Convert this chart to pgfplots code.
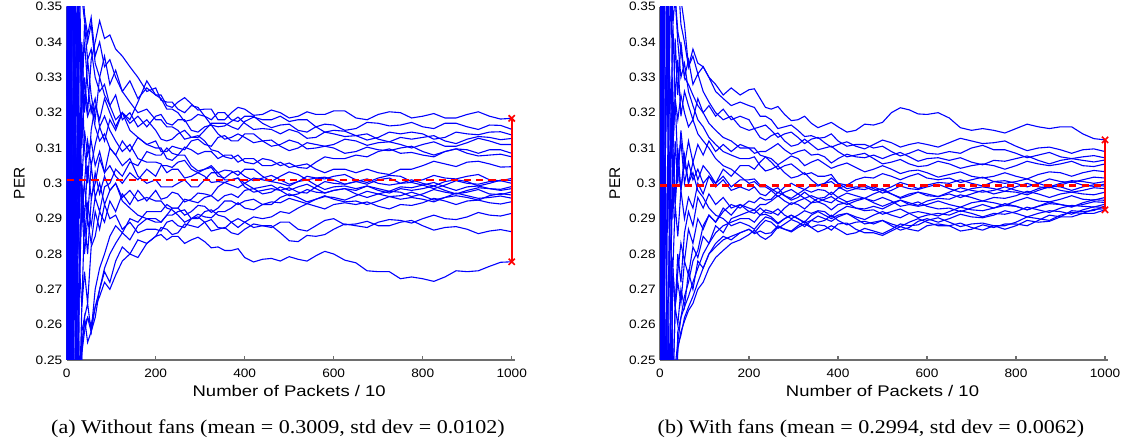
\documentclass[border=0pt]{standalone}
\usepackage{fontspec}
\setmainfont{Liberation Serif}
\newfontfamily\axfont[FakeStretch=1.12]{Liberation Sans}
\newfontfamily\lblfont[FakeStretch=1.2]{Liberation Sans}
\newfontfamily\perfont{Liberation Sans}
\newfontfamily\capfont[FakeStretch=1.13]{Liberation Serif}
\usepackage{pgfplots}
\pgfplotsset{compat=1.18}
\usepackage{pgfplotstable}
\definecolor{mblue}{RGB}{0,0,255}
\definecolor{mred}{RGB}{255,0,0}
\definecolor{maxis}{RGB}{110,110,110}

% PER x 1000, one row per run (first row = x grid), transposed and sorted by x below
\pgfplotstableread[header=false]{
X 0 2 4 6 8 10 12 15 18 21 25 29 34 40 47 55 64 74 85 97 110 125 142 160 180 200 225 250 280 310 340 370 400 440 480 520 560 600 650 700 750 800 850 900 950 1000 212 237 265 295 325 355 385 420 460 500 540 580 625 675 725 775 825 875 925 975
A 0 500 333 250 400 300 357 380 290 330 360 300 340 320 335 325 318 330 336 328 332 326 329 324 327 325 322 323 322.5 321 318 320 321 319.5 320 319 319.5 320.5 318.5 319.5 320 319 318.5 319.5 319 318.4 325 321.5 324.25 320.75 321 318 321.5 319.25 320.75 318.5 320.25 319.5 320.5 318 320.25 318.5 319.75 318.5 320.25 318.2
B 1000 0 500 400 200 350 420 300 380 260 340 360 310 330 320 335 340 346 341 342 338 336 333 330 326 327 323 321 322 319 320 318 319 317 316.5 315 316 316.5 315.5 317 316.5 316 317 316 316.5 315.3 323.5 323 320 321.5 318 320 317.5 319 315.75 316.75 314.5 316.75 315 317.25 316.25 317.25 315.5 317 315.25 316.4
C 0 333 200 429 250 364 231 300 350 280 320 290 330 310 300 315 322 318 324 320 316 320 318 323 329 325 321 320 318 319 316 317.5 317 315.5 314 314.5 313 314 313.5 313 314 314 313 314 314.5 313.7 324 321 317.5 319.5 316.5 316.25 318.75 315.25 315.25 315.25 312.75 314.5 313.25 312.25 314.5 314.5 312.5 314.5 313.75 314.6
D 1000 500 333 250 200 273 308 267 316 333 300 345 320 345 335 338 330 326 328 322 325 318 320 316 318 315 312 314 313 315 317 316 317.5 318 319 318 316 315 313.5 312.5 313 313 312 312.5 313 312.7 312.5 312.5 315 313 317 317 315.25 318.75 318 317.5 318 314.5 314.75 314 311.75 312.5 313.5 311.25 313.25 312.35
E 0 0 167 286 222 182 250 313 263 300 280 310 290 300 312 305 311 316 312 318 315 320 317 319 316 319 317 318 315 316 314 313 313 312 310.5 310 311 311 312 311.5 311 311 310.5 311.5 312 311 319.5 316.5 318 314.5 316.5 312.5 314 311.5 312.25 309.25 311.5 310.5 312.5 310.75 311.75 310 311.75 310.5 312.75 311
F 0 500 167 143 333 273 231 353 300 250 320 270 300 290 305 296 300 307 303 310 308 312 309 313 311 312 309 310 312 311 313 312 314 312 311 311.5 310 310 309 309.5 310 309 309 309.5 309.5 308.5 309 310.5 309.5 312.5 310.5 313.5 312 314 310.5 312.25 309.75 310.5 308.5 310.25 309.25 310.5 308 309.75 308.5 309.5
G 1000 333 600 375 444 400 357 333 380 370 350 380 360 348 342 347 336 340 333 335 330 326 323 320 321 318 316 315 313 312 309 307 306 307 305 304.5 306 307 308 309 308.5 308 309 308.5 308 307.5 318 316 312.5 313.5 309.5 307.5 308 305.5 306.5 305.75 304.25 307.5 307 307.5 309.75 308.75 307.5 309.75 307.75 308.25
H 0 0 0 125 111 91 154 200 238 269 293 276 300 285 294 288 296 292 299 300 304 302 306 305 309 308 310 308 309.5 309 307 308 307 305 306 305 304 304 303 303 304 305 305.5 306 305.5 304.7 308 308.5 310.25 308.25 309 308 306 307 305 304.5 305.5 303 304 304 302.5 304 306.25 304.75 306.25 304.6
I 1000 667 400 333 444 364 385 333 263 310 280 320 300 315 308 312 305 309 303 305 302 300 303 301 304 302 305 306 304 304 302 303 302 301.5 301 300.5 301.5 302 301 301.5 302 301 301.5 302 301 301.4 305 304.5 306.5 303 304.5 301.5 303.5 300.75 302.25 299.75 302 301.25 302.5 300.25 302.25 300.5 302.25 301.25 302.5 300.7
J 0 333 400 167 222 182 231 267 211 286 240 276 265 275 266 282 285 292 289 295 292 297 294 298 295 298 296 297 295.5 297 299 299.5 300 301 302 302.5 301.5 301 300.5 300 300 300 300.5 300.5 300 300.8 295.5 297.5 294.75 297.25 296.5 300.25 298.75 301.5 300.5 303.25 301 301.75 299.75 301.25 299.5 301 299.25 301 299.25 300.9
K 1000 1000 500 500 333 455 385 400 368 333 360 345 330 340 328 320 324 316 319 315 312 309 311 307 306 306 303 304 302 302 300.5 301 299 298 298 297.5 299 300 300.5 301 300 299.5 299.5 300 300.5 300 305.5 304 301.5 303 300.25 300.25 301.5 297.5 298.5 298.75 297.25 300.5 299.75 299.75 301.5 300.25 298.5 300.75 299.75 300.75
L 0 0 200 167 111 182 154 133 211 190 240 207 255 260 262 258 270 276 280 285 288 286 290 289 292 292 294 293 295 296 295 297 298 297 299 299 298.5 298 298 298.5 299 299.5 299 299 298.5 299.1 292 293 295.5 294.5 296.5 296.5 296 298.5 297.5 298 299.75 297.25 298.5 299.25 297.75 298.75 300.25 298 299.25 298.3
M 1000 500 667 500 556 455 462 467 421 381 400 379 353 346 340 345 334 330 325 322 318 320 315 313 311 310 307 308 305 304 303 301 300 299 298 297 297.5 298 297 297 297.5 297 297.5 297.5 297 297.6 310 306.5 308 303.5 305 301 301.5 298.5 299.5 296.5 298.25 297.25 298.5 296 297.75 296.25 298.25 297 298.25 296.8
N 0 0 0 0 111 91 77 133 158 143 200 241 252 262 255 258 262 270 276 280 283 286 284 288 290 290 291 293 292 293.5 293 295 295 294 296 296 295.5 296 296.5 297 296.5 296.5 296 296 296.5 296.7 289 293 291 293.75 291.75 295 294 295.5 294 297 294.75 296.25 295.25 297.75 296.25 297.5 295.25 296.5 295.25 297.1
O 1000 500 333 250 333 364 308 267 316 286 320 310 294 300 290 305 296 300 294 298 300 296 298 295 296 295 293 291 290 290.5 292 293 293 294 294.5 295 295.5 295.5 295 295 295.5 295.5 296 296.5 296 295.8 295 292.5 289 291.25 290.25 292 294.5 292.5 294.75 295.75 294.25 296.5 294.75 294 296.25 296 294.75 297.25 295.75 296.4
P 0 500 500 333 333 273 308 333 263 238 280 241 265 290 280 295 303 297 302 298 300 295 293 291 290 289 291 292 290 292 291 289 289 290 292 293 293.5 294 294 293.5 294 294.5 295 295 294.5 294.8 289 291 292.5 290 292.5 290.5 287.5 290.5 290.5 291.5 294.25 292.75 294.5 294.75 292.75 293.75 295.75 294 295.25 294.15
Q 0 0 333 167 111 91 154 200 158 238 200 241 258 262 266 258 265 270 275 272 278 282 280 284 283 285 287 286 288 289 287.5 289 289 288 286 283.5 285 287 288 289 289.5 290 290 290.5 291 291.5 287.5 285.5 288.5 287.5 289.75 287.25 290 287.5 288 283.75 285.25 285.5 288.5 287.5 289.75 288.75 291 289.75 291.75 290.75
R 1000 333 200 250 222 273 231 267 316 286 240 276 294 280 290 283 292 287 294 290 291 287 289 286 287 287 289 288 290 289 287 286 287 288 289 287 288 290 288.5 288 289 288 287.5 287 286.5 286.3 286.5 289.5 287.5 290.5 286.5 287.5 285.5 288.5 287.5 289 286.5 289.5 288.25 289.25 288 289.5 286.75 287.75 285.75 286.9
S 0 500 333 250 111 182 154 200 158 190 240 207 252 258 262 260 265 268 272 270 274 278 280 279 283 285 284 285 284 283.5 282 281 279 278.5 278 278.5 279.5 280 277.5 275 273 273 273.5 275 276.5 277.8 285.5 285 283 284.75 281.75 281 281.5 277.75 278.75 279.25 278 280.75 278.25 275.25 275 273.5 272.25 275.25 275.25 277.65
T 1000 1000 667 500 444 364 462 400 368 429 320 345 324 325 319 322 316 312 314 310 308 305 307 302 300 301 299 300 299 301 303 303.5 304 302 300 300.5 299.5 299 298.5 298 298.5 298.5 298 298 298.5 298.5 299 299 301 299 303 303.75 302.25 304 300.5 299.25 301 298.25 299.25 299.25 297.25 298 299.25 297 298.75 298
}\rawL
\pgfplotstabletranspose[colnames from=0]\tabLu\rawL
\pgfplotstablesort[sort key=X]\tabL\tabLu

\pgfplotstableread[header=false]{
X 0 2 4 6 8 10 12 15 18 21 25 29 34 40 47 55 64 74 85 97 110 125 142 160 180 200 225 250 280 310 340 370 400 440 480 520 560 600 650 700 750 800 850 900 950 1000 212 237 265 295 325 355 385 420 460 500 540 580 625 675 725 775 825 875 925 975
A 1000 500 667 500 444 455 385 400 421 381 400 379 353 360 345 340 333 336 331 333 330 328 325 327 325 326.5 324 321 319.5 318 317 316.5 316 315 316.5 320 320.8 319.5 318.5 315 315 315.5 316 316 314 312.3 326.75 321.5 321.75 317.75 319 315.75 317.25 314.5 316.75 317.25 321.4 319.65 320 315.75 315.5 314.25 316.75 315.5 316 312.65
B 0 500 333 500 333 364 308 333 368 286 320 345 324 335 319 326 322 318 324 320 322 319 321 318 319 318 316 315 314 313 312.5 311.5 311 310.5 311 311.5 311 311 311.5 312 311.5 310.5 310 309.5 309.5 309 315.5 316.5 313 314.5 311.25 313 310.25 311.75 309.75 312.25 310.25 311.5 310.25 312.75 311.25 312 309.25 310.25 308.5 309.75
C 1000 1000 500 667 556 455 538 467 421 429 400 414 382 370 352 345 333 338 334 333 330 326 324 322 323 322 319 318 316 315 313.5 313 312 311 310 309 308.5 308.5 309 310 309.5 308.5 308 307.5 307.5 307.2 321.5 319 315.5 316.5 313.25 312.75 314 310.5 311 310.5 307.75 309.5 308.25 308.5 310.75 309.5 307.25 308.75 307 307.85
D 0 0 333 167 333 273 308 267 316 286 320 290 312 300 315 305 312 306 311 308 312 309 311 309 311 310 309 310 309.5 309 308 307.5 307 307.5 308 308 307.5 307 306.5 306 306.5 307 306.5 306.5 306.5 306.6 308.5 309 311.25 308.25 309.5 308.25 305.75 308.25 307.25 307 308.75 306.25 307.25 307.25 305.25 306.25 307.75 305.5 307 306.05
E 1000 500 500 333 444 364 385 333 368 333 360 310 341 325 340 330 335 328 331 326 323 320 318 319 316 315 313 313.5 312 311 311 310 309 308 307 306 305.5 305 305.5 305 305 305 305.5 305.5 305 305.5 315.5 312.25 314.25 310.5 312.5 309.5 310.5 307.5 308.5 305.5 306.75 304.75 306.25 304.25 305.5 304 306.25 305 306.25 304.75
F 0 0 167 143 222 182 231 200 263 238 280 276 294 285 298 290 296 293 300 297 302 300 304 302 305 305 306 307 306.5 307 306 305.5 305 304.5 304 304 303.5 303 302.5 302 302 302 302.5 303 303 303.3 304 307.5 305.25 307.75 305 306.75 304.25 305.75 303.25 305 302.75 303.75 301.75 303.25 301.5 303 301.25 303.25 302 303.65
G 1000 333 400 286 333 273 308 333 316 333 280 310 294 310 298 308 300 306 301 305 303 300 302 299 301 301 299.5 298.5 299 299 299.5 300 300 301 301.5 302 302 301.5 301.5 301 300.5 300 300 300.5 301 301.5 301.25 299.5 297.25 300 298.25 299.25 301.5 299.5 301.75 302.75 301 302.75 301 300.25 301.75 300.75 299 301.25 300.25 301.75
H 0 333 200 167 111 182 154 200 158 190 200 207 248 255 262 268 272 278 281 288 291 289 292 294 293 295 296 295.5 296.5 297 297.5 298 298.5 298.5 299 299 299.5 299.5 300 300 300.5 300.5 300 300 300.5 300.5 294.5 295.25 297.5 295.75 298.25 298.25 296.75 299.5 298.25 298 300.25 298.5 300.25 301 299.25 300 301.25 299 300.75 300
I 1000 1000 667 500 556 545 462 467 421 381 360 379 353 340 330 334 326 322 318 316 313 311 309 308 307 307 305 304 303 302 301 300 299 298.5 298.5 298 298.5 299 298.5 298.5 298.5 299 299 299.5 299.5 299.8 307.5 303.5 305 301.5 303 299.5 300.5 297.75 299.5 297.25 299.25 298.25 299.75 297.5 299 297.75 300 298.75 300.5 299.15
J 0 0 0 125 111 91 154 133 158 190 200 241 228 258 262 265 268 272 276 280 283 286 288 289 290 290 291 292 293 294 294.5 295 296 296.5 297 297 297 297 297.5 298 298 298 298.5 299 299 299.2 289 292.5 291 294.5 292.75 295.75 294.5 297.25 295.75 298 296 297.5 296.25 298.75 297.5 299 297.25 299.25 298 299.6
K 1000 500 500 500 444 455 462 400 421 381 360 345 353 343 338 330 328 325 322 320 317 315 313 312 310 310 308 306 305 304 303 302 300 299 298 297 296.5 296.5 297 297 297 297.5 298 298 298 298.5 310 307.5 304 305.5 302.5 302 302.5 298.5 299 298.5 295.75 297.5 296.25 296 298 297.75 296.75 299 297.5 298.75
L 0 500 333 333 222 273 231 267 263 286 240 276 265 280 272 286 292 288 296 293 297 294 296 293 294 292 293 291.5 291 291 291.5 292 292 293 293.5 294 294.5 295 295.5 296 296 296.5 297 297 297 297.5 291.5 291.75 292.75 290 292.25 292.25 290.5 293.5 292.75 292.75 295.25 293.75 295.75 296.75 295 295.75 297.75 296 297.5 296.75
M 1000 500 333 500 444 364 385 400 316 333 320 310 324 305 312 300 306 301 304 300 302 299 301 298 299 298 297 298 296.5 296 296 295.5 295 295 294.5 294.5 294 294 294 294.5 294.5 295 295 295.5 295.5 296 299 296.5 298.75 295.25 297.5 294.75 296.25 294 295.75 293.5 295.25 293.5 295 293.25 295 293.75 296 294.75 296.5 295.25
N 0 0 167 0 111 91 77 133 105 143 160 172 206 254 257 262 265 268 272 276 280 282 284 285 286 287 288 289 288.5 289 289.5 290 290.5 290.5 291 291 291.5 291.5 292 292.5 293 293.5 293.5 294 294.5 295.2 286 289.5 287.25 289.75 287.75 290.75 289.25 291.5 289.75 292 290.25 292 290.75 293.25 292.25 294.25 292.5 294.25 293.25 295.35
O 1000 667 500 333 333 364 308 333 316 286 320 310 324 318 325 320 316 318 314 312 310 307 305 304 302 300 299 298 297.5 297 296.5 296 296 295.5 295 295 294 293.5 293 293 293 293.5 293.5 294 294 294.6 300.5 299 296.25 298.25 295.75 295.75 297.5 294.75 295.75 296 293.5 294.75 292.75 292 294 293.75 292.5 294.75 293.5 294.8
P 0 0 333 250 222 182 231 200 211 238 240 276 265 275 283 278 287 283 290 287 291 289 293 291 294 293 294 295 295 295 294.5 294 294 293 292.5 292 291.5 291 291 291.5 291.5 292 292.5 293 293.5 294.1 292.5 294 296.5 294 295.75 294.75 292.5 294.5 292.25 291.25 292.75 290.25 291.5 292.25 290.5 291.25 293.25 291.75 293.75 293.3
Q 0 0 0 0 0 91 77 67 105 143 120 172 241 253 258 261 264 266 270 272 276 279 281 283 284 285.5 285 285.3 287 288 287.5 287 287 286 286.5 287 288 289.5 289 288.5 288 288 289 290.5 292 293.6 286.75 284.15 287.65 286.5 289.25 286.25 288 285.5 287.25 285.75 288.5 288.25 290.25 287.75 288.75 287 289.5 289.25 292.25 292.3
R 1000 500 333 250 333 273 308 267 263 286 280 310 294 305 298 306 300 303 298 296 293 291 290 288 289 288 289 290 290 290 291 291 291 290 289 288 287.5 290 290 290.5 291 291.5 291.5 292 292.5 293.2 287 290.5 288.5 291 289 292 290 291.5 288.5 289.5 286.75 289.25 289 291.25 290.25 292.25 290.5 292.25 291.25 293.35
S 0 333 200 333 222 273 231 267 211 238 240 241 265 272 266 278 274 282 279 285 283 288 286 290 291 292 291 290.5 290 290 289.5 289.5 289.5 289 288.5 288.5 289 289 288 287 287.5 288.5 289.5 290.5 291.5 292.8 292.5 291.25 288.75 291 288.75 289 291 288.25 289.25 289.5 287.75 290 288 286.5 288.25 288.5 288 291 290.5 292.65
T 1000 333 333 286 222 273 231 200 263 238 280 241 265 260 270 265 275 270 278 276 280 283 285 284 286 287 286.5 286 287 287.5 287.5 288 288.5 287 286 286.5 287 288 288 287.5 288 289 290 291 291.5 292.5 285.75 285.75 288 286.25 288.5 288.25 286.75 288.75 286 285.25 287.75 286.5 288.5 288.75 286.75 288 290.5 289.5 291.75 291.5
}\rawR
\pgfplotstabletranspose[colnames from=0]\tabRu\rawR
\pgfplotstablesort[sort key=X]\tabR\tabRu

\pgfplotsset{
  perpanel/.style={
    scale only axis, width=224.06pt, height=176.65pt,
    anchor=south west,
    xmin=0, xmax=1007, ymin=250, ymax=350,
    axis x line=bottom, axis y line=left,
    axis line style={maxis, line width=0.6pt, -},
    tick align=inside,
    major tick length=2pt,
    tick style={maxis, line width=0.6pt},
    xtick={0,200,400,600,800,1000},
    xticklabels={0,200,400,600,800,1000},
    ytick={250,260,270,280,290,300,310,320,330,340,350},
    yticklabels={0.25,0.26,0.27,0.28,0.29,0.3,0.31,0.32,0.33,0.34,0.35},
    ticklabel style={font=\axfont\fontsize{6.1}{7}\selectfont, text=black, inner sep=0pt},
    xticklabel style={anchor=north, yshift=-4.5pt},
    yticklabel style={anchor=east, xshift=-2pt},
    xlabel={Number of Packets / 10},
    ylabel={PER},
    xlabel style={font=\lblfont\fontsize{7.7}{9}\selectfont, at={(axis description cs:0.4965,0)}, anchor=center, yshift=-15.35pt},
    ylabel style={font=\perfont\fontsize{7.7}{9}\selectfont, anchor=center},
  },
  walk/.style={mblue, line width=0.55pt},
  meanline/.style={mred, line width=1.2pt, dash pattern=on 3.6pt off 2.6pt},
  rangebar/.style={mred, line width=0.8pt, mark=x, mark size=2.2pt},
}

\begin{document}
\begin{tikzpicture}
\path[use as bounding box] (0,0) rectangle (562.5pt,222pt);

\begin{axis}[perpanel, at={(33.35pt,42pt)}, ylabel style={at={(axis description cs:-0.1058,0.5)}}]
\pgfplotsinvokeforeach{A,B,C,D,E,F,G,H,I,J,K,L,M,N,O,P,Q,R,S,T}{
  \addplot[walk] table[x=X, y=#1] {\tabL};
}
\addplot[meanline] coordinates {(0,300.9) (1000,300.9)};
\addplot[rangebar] coordinates {(1000,277.8) (1000,318.4)};
\end{axis}

\begin{axis}[perpanel, at={(330pt,42pt)}, ylabel style={at={(axis description cs:-0.1009,0.5)}}]
\pgfplotsinvokeforeach{A,B,C,D,E,F,G,H,I,J,K,L,M,N,O,P,Q,R,S,T}{
  \addplot[walk] table[x=X, y=#1] {\tabR};
}
\addplot[meanline] coordinates {(0,299.4) (1000,299.4)};
\addplot[rangebar] coordinates {(1000,292.5) (1000,312.3)};
\end{axis}

\node[font=\capfont\fontsize{9.75}{11}\selectfont, anchor=base] at (139pt,5.4pt)
  {(a) Without fans (mean = 0.3009, std dev = 0.0102)};
\node[font=\capfont\fontsize{9.75}{11}\selectfont, anchor=base] at (435.5pt,5.4pt)
  {(b) With fans (mean = 0.2994, std dev = 0.0062)};
\end{tikzpicture}
\end{document}
